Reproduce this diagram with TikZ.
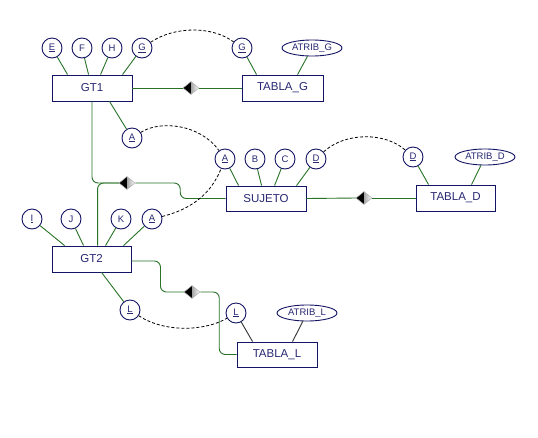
\documentclass[tikz,border=0pt]{standalone}
\usepackage{fontspec}
\setmainfont{Liberation Sans}
\usetikzlibrary{shapes.geometric}
\definecolor{navyline}{RGB}{20,20,100}
\definecolor{navytext}{RGB}{40,40,115}
\definecolor{relgreen}{RGB}{40,115,40}
\tikzset{
  ent/.style={draw=navyline, line width=0.9pt, rectangle, minimum width=80pt, minimum height=26pt, inner sep=0pt, text=navytext, font=\fontsize{11.5}{13}\selectfont},
  att/.style={draw=navyline, line width=0.9pt, circle, minimum size=20pt, inner sep=0pt, text=navytext, font=\fontsize{9.5}{10}\selectfont},
  eatt/.style={draw=navyline, line width=0.9pt, ellipse, minimum width=60pt, minimum height=16pt, inner sep=0pt, text=navytext, font=\fontsize{9.5}{10}\selectfont},
  conn/.style={draw=relgreen, line width=0.9pt},
  blk/.style={draw=black!80, line width=0.9pt},
  dl/.style={draw=black, line width=0.8pt, dash pattern=on 3pt off 2pt},
  rnd/.style={rounded corners=6pt},
  reldia/.style={diamond, minimum width=16pt, minimum height=13pt, inner sep=0pt, draw=gray!60, line width=0.5pt,
    path picture={
      \fill[black] (path picture bounding box.north) -- (path picture bounding box.west) -- (path picture bounding box.south) -- cycle;
      \shade[left color=gray!70, right color=white] (path picture bounding box.north) -- (path picture bounding box.east) -- (path picture bounding box.south) -- cycle;
    }},
}
\begin{document}
\begin{tikzpicture}[x=1pt,y=-1pt]
\useasboundingbox[fill=white] (0,0) rectangle (538,437);

% entities
\node[ent] (GT1) at (92,88) {GT1};
\node[ent, minimum width=81pt] (TG) at (282.5,88) {TABLA\_G};
\node[ent, minimum height=25pt] (SUJ) at (266,198.5) {SUJETO};
\node[ent, minimum width=79pt] (TD) at (455.5,198) {TABLA\_D};
\node[ent, minimum width=79pt] (GT2) at (91.5,259) {GT2};
\node[ent, minimum height=25pt] (TL) at (277,354.5) {TABLA\_L};

% attributes
\node[att] (E) at (52,48) {\underline{E}};
\node[att] (F) at (82,48) {F};
\node[att] (H) at (112,48) {H};
\node[att] (G1) at (142,48) {\underline{G}};
\node[att] (G2) at (242,48) {\underline{G}};
\node[eatt] (AG) at (312,48) {ATRIB\_G};
\node[att] (A1) at (132,138) {\underline{A}};
\node[att] (A2) at (225,159) {\underline{A}};
\node[att] (B) at (255,159) {B};
\node[att] (C) at (285,159) {C};
\node[att] (D1) at (316,159) {\underline{D}};
\node[att] (D2) at (413,157) {\underline{D}};
\node[eatt] (AD) at (485,157) {ATRIB\_D};
\node[att] (I) at (32,219) {\underline{I}};
\node[att] (J) at (71,219) {J};
\node[att] (K) at (121,219) {K};
\node[att] (A3) at (152,219) {\underline{A}};
\node[att] (L1) at (130,310) {\underline{L}};
\node[att] (L2) at (236,313) {\underline{L}};
\node[eatt] (AL) at (307,313) {ATRIB\_L};

% relationship diamonds
\node[reldia] (rG) at (191,88) {};
\node[reldia] (r1) at (127,183) {};
\node[reldia] (rD) at (364,198) {};
\node[reldia] (rL) at (192,292) {};

% attribute links
\draw[conn] (E) -- ([xshift=16pt]GT1.north west);
\draw[conn] (F) -- ([xshift=37pt]GT1.north west);
\draw[conn] (H) -- ([xshift=49pt]GT1.north west);
\draw[conn] (G1) -- ([xshift=71pt]GT1.north west);
\draw[conn] ([xshift=58pt]GT1.south west) -- (A1);
\draw[conn] (G2) -- ([xshift=15pt]TG.north west);
\draw[conn] (AG) -- ([xshift=56pt]TG.north west);
\draw[conn] (A2) -- ([xshift=13pt]SUJ.north west);
\draw[conn] (B) -- ([xshift=36pt]SUJ.north west);
\draw[conn] (C) -- ([xshift=49pt]SUJ.north west);
\draw[conn] (D1) -- ([xshift=71pt]SUJ.north west);
\draw[conn] (D2) -- ([xshift=13pt]TD.north west);
\draw[conn] (AD) -- ([xshift=56pt]TD.north west);
\draw[conn] (I) -- ([xshift=13pt]GT2.north west);
\draw[conn] (J) -- ([xshift=32pt]GT2.north west);
\draw[conn] (K) -- ([xshift=54pt]GT2.north west);
\draw[conn] (A3) -- ([xshift=72pt]GT2.north west);
\draw[conn] ([xshift=50pt]GT2.south west) -- (L1);
\draw[blk] (L2) -- ([xshift=16pt]TL.north west);
\draw[blk] (AL) -- ([xshift=56pt]TL.north west);

% relationship links
\draw[conn] (GT1.east) -- (rG.west);
\draw[conn] (rG.east) -- (TG.west);
\draw[conn, rnd] (GT1.south) |- (r1.west);
\draw[conn, rnd] ([xshift=46pt]GT2.north west) |- (r1.west);
\draw[conn, rnd] (r1.east) -- ++(45,0) |- (SUJ.west);
\draw[conn] (SUJ.east) -- (rD.west);
\draw[conn] (rD.east) -- (TD.west);
\draw[conn, rnd] ([yshift=-2pt]GT2.east) -- ++(29,0) |- (rL.west);
\draw[conn, rnd] (rL.east) -- ++(19,0) |- (TL.west);

% dashed key correspondences
\draw[dl] (G1) .. controls (175,26) and (212,26) .. (G2);
\draw[dl] (A1) .. controls (160,120) and (200,124) .. (A2);
\draw[dl] (A3) .. controls (200,207) and (214,186) .. (A2);
\draw[dl] (D1) .. controls (345,132) and (385,132) .. (D2);
\draw[dl] (L1) .. controls (165,333) and (205,331) .. (L2);
\end{tikzpicture}
\end{document}
